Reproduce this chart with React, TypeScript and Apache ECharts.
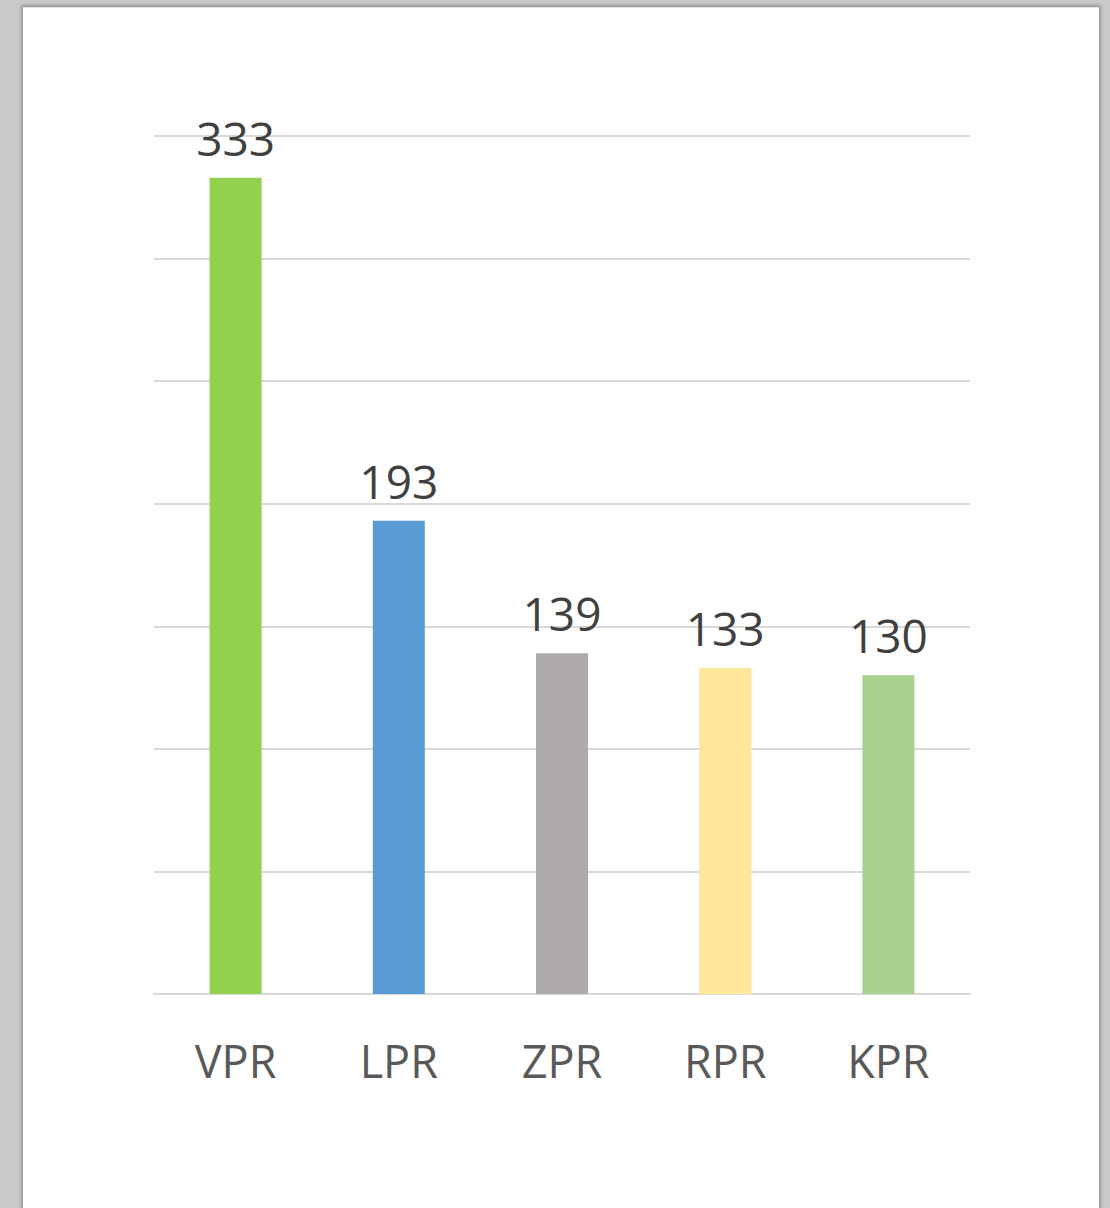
import React, { useEffect, useRef } from "react";
import * as echarts from "echarts";

const categories = ["VPR", "LPR", "ZPR", "RPR", "KPR"];
const values = [333, 193, 139, 133, 130];
const barColors = ["#92d050", "#5b9bd5", "#aeaaaa", "#ffe699", "#a9d18e"];
const yMax = 350;
const yInterval = 50;

export default function App() {
  const ref = useRef<HTMLDivElement>(null);
  useEffect(() => {
    if (!ref.current) return;
    const chart = echarts.init(ref.current, undefined, { renderer: "svg" });
    chart.setOption({
      animation: false,
      grid: { left: 154, right: 140, top: 136, bottom: 214, containLabel: false },
      xAxis: {
        type: "category",
        data: categories,
        axisLine: { show: true, lineStyle: { color: "#d9d9d9", width: 2 } },
        axisTick: { show: false },
        axisLabel: {
          color: "#595959",
          fontFamily: "Open Sans",
          fontSize: 45,
          margin: 44,
        },
      },
      yAxis: {
        type: "value",
        min: 0,
        max: yMax,
        interval: yInterval,
        axisLabel: { show: false },
        axisLine: { show: false },
        axisTick: { show: false },
        splitLine: { lineStyle: { color: "#d9d9d9", width: 2 } },
      },
      series: [
        {
          type: "bar",
          barWidth: 52,
          data: values.map((v, i) => ({ value: v, itemStyle: { color: barColors[i] } })),
          label: {
            show: true,
            position: "top",
            distance: 17,
            color: "#404040",
            fontFamily: "Open Sans",
            fontSize: 46,
          },
        },
      ],
    });
    return () => chart.dispose();
  }, []);
  return (
    <div
      style={{
        position: "fixed",
        left: 0,
        top: 0,
        width: 1110,
        height: 1208,
        background: "#c8cac8",
        overflow: "hidden",
      }}
    >
      <div
        style={{
          position: "absolute",
          left: 23,
          top: 7,
          width: 1076,
          height: 1220,
          background: "#ffffff",
          boxShadow: "0 0 3px 2px rgba(0,0,0,0.25)",
          borderTop: "1px solid #e6e6e6",
        }}
      />
      <div ref={ref} style={{ position: "absolute", left: 0, top: 0, width: 1110, height: 1208 }} />
    </div>
  );
}
